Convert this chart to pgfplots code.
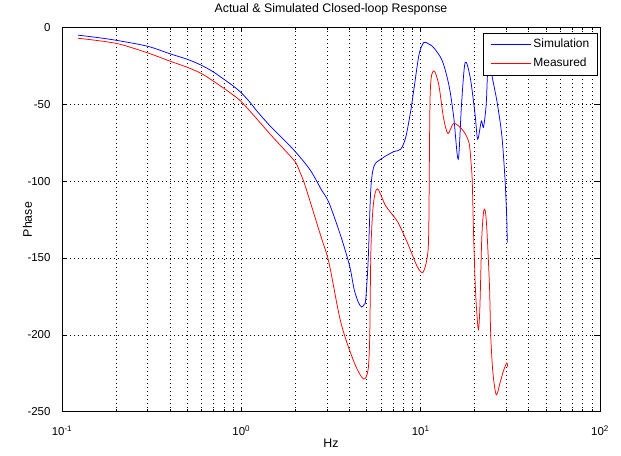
\documentclass[border=0pt]{standalone}
\usepackage{fontspec}
\setmainfont{Liberation Sans}
\usepackage{pgfplots}
\pgfplotsset{compat=1.18}
\begin{document}
\begin{tikzpicture}
\useasboundingbox (-62bp,-44.3bp) rectangle (559bp,411.7bp);
\begin{axis}[
  xmode=log, scale only axis, width=538bp, height=384.2bp,
  xmin=0.1, xmax=100, ymin=-250, ymax=0,
  xtick={0.1,1,10,100},
  xticklabels={10\textsuperscript{-1},10\textsuperscript{0},10\textsuperscript{1},10\textsuperscript{2}},
  ytick={-250,-200,-150,-100,-50,0},
  yticklabels={-250,-200,-150,-100,-50,0},
  xmajorgrids, xminorgrids, ymajorgrids,
  major grid style={black, line width=0.5bp, dash pattern=on 1bp off 3bp},
  minor grid style={black, line width=0.5bp, dash pattern=on 1bp off 3bp},
  axis line style={black, line width=0.6bp},
  major tick length=5bp, minor tick length=3bp,
  every tick/.style={black, line width=0.5bp},
  tick label style={font=\fontsize{11.5}{13}\selectfont},
  xticklabel style={anchor=base, yshift=-24bp},
  yticklabel style={anchor=east, xshift=-8bp},
  title={Actual \& Simulated Closed-loop Response},
  title style={at={(axis description cs:0.5,1)}, anchor=base, yshift=9bp, font=\fontsize{12.4}{14}\selectfont},
  xlabel={Hz},
  xlabel style={at={(axis description cs:0.5,0)}, anchor=base, yshift=-36bp, font=\fontsize{12.4}{14}\selectfont},
  ylabel={Phase},
  ylabel style={at={(axis description cs:-0.0641,0.5)}, anchor=center, font=\fontsize{12.4}{14}\selectfont},
  legend style={at={(axis description cs:1,1)}, xshift=-2.3bp, yshift=-5.5bp, anchor=north east, draw=black, line width=0.5bp, fill=white,
    font=\fontsize{12}{14}\selectfont, inner xsep=6.7bp, inner ysep=4bp,
    nodes={inner sep=1.5bp, anchor=west, text height=9bp, text depth=3bp}, row sep=3.7bp, column sep=1bp},
  legend image code/.code={\draw[#1] (0bp,0bp) -- (40bp,0bp);},
  legend cell align=left,
]
\addplot[blue, line width=0.75bp, smooth, tension=0.5] coordinates {
(0.123,-5) (0.15,-6.2) (0.2,-8.3) (0.3,-12.2) (0.4,-17.1) (0.5,-20.7) (0.6,-24.6) (0.7,-29) (0.8,-33.7) (0.9,-38) (1.0,-42.5)
(1.12,-48.8) (1.22,-54.3) (1.445,-64) (1.71,-72.5) (2.0,-80.8) (2.42,-92.7) (2.8,-105.7) (3.08,-114) (3.59,-135.9) (4.02,-155.4) (4.26,-170.6)
(4.5,-179) (4.69,-181.9) (4.85,-180) (4.94,-177) (5.1,-151) (5.27,-105.5) (5.49,-90.3) (5.99,-85.7) (6.3,-84) (7.1,-80.7) (7.74,-79.2)
(8.25,-71.6) (8.8,-54.3) (9.2,-39) (9.8,-17.4) (10.4,-9.8) (11.0,-10.5) (11.8,-13) (13.2,-21.7) (14.4,-38) (15.3,-58.6) (16.2,-85.7)
(16.9,-50) (17.7,-22.8) (18.9,-32.6) (20.1,-56.4) (20.8,-72.7) (21.8,-60.8) (22.4,-65) (23.2,-50) (23.6,-30.4) (24.3,-20)
(25.0,-31.5) (26.6,-47.7) (28.3,-69.4) (29.5,-97.6) (30.2,-123.7) (30.4,-140)
};
\addlegendentry{Simulation}
\addplot[red, line width=0.75bp, smooth, tension=0.5] coordinates {
(0.123,-7) (0.2,-10.3) (0.3,-16.5) (0.4,-21.9) (0.5,-25.9) (0.6,-30) (0.7,-35) (0.8,-39.6) (0.9,-43.9) (1.0,-48.3)
(1.2,-58.5) (1.445,-69.3) (1.71,-78.6) (2.0,-87.5) (2.12,-94) (2.27,-103) (2.78,-136) (3.08,-153) (3.59,-192) (4.26,-218) (4.8,-228.7) (5.09,-222.7)
(5.2,-201) (5.28,-144.5) (5.45,-115) (5.74,-105) (6.4,-116.3) (7.4,-126) (8.43,-140) (9.56,-155.4) (10.3,-159.3) (10.9,-149)
(11.1,-130) (11.3,-43.4) (11.8,-28.2) (12.6,-36.9) (13.4,-58.6) (14.2,-69) (15.3,-62.3) (17.3,-67.3) (18.6,-75) (19.1,-88)
(19.4,-100) (19.7,-131.5) (20.1,-164) (20.5,-183.6) (21.0,-196.6) (21.4,-181.4) (21.9,-138) (22.4,-120.6) (22.9,-119)
(23.4,-131.5) (24.2,-168.4) (24.6,-201) (25.3,-224.8) (26.4,-239) (27.7,-231.3) (28.9,-223.7) (30.2,-218.3) (30.6,-221)
};
\addlegendentry{Measured}
\end{axis}
\end{tikzpicture}
\end{document}
